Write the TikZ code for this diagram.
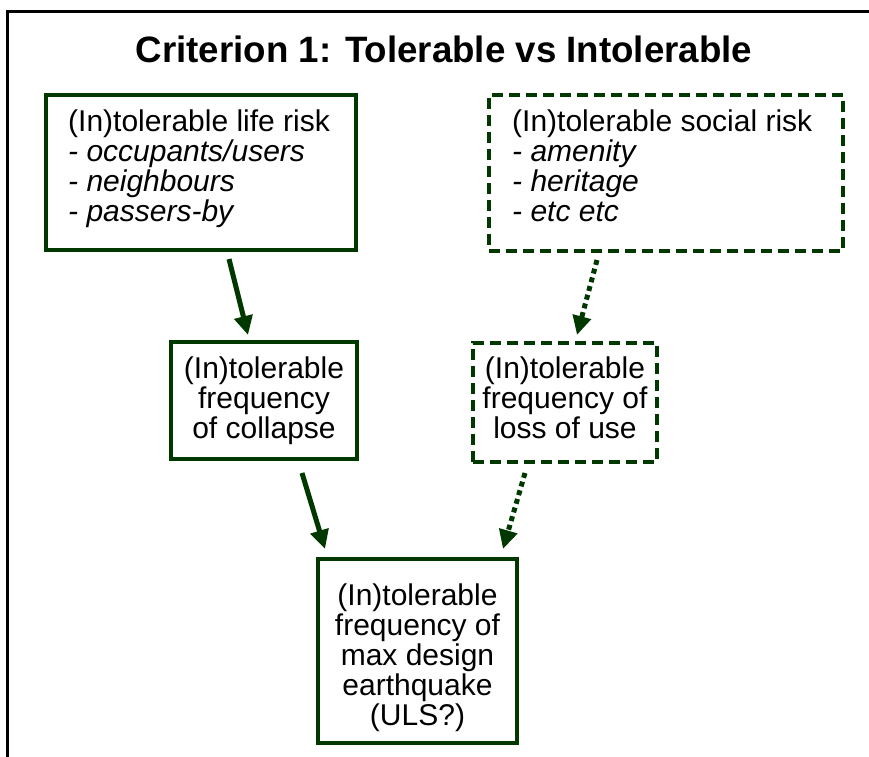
\documentclass[tikz,border=0pt]{standalone}
\usepackage{fontspec}
\setmainfont{Liberation Sans}
\usetikzlibrary{arrows.meta}
\definecolor{dg}{RGB}{0,56,0}
\begin{document}
\begin{tikzpicture}[x=1pt,y=-1pt,
  solidbox/.style={draw=dg, line width=3.5pt, inner sep=0pt},
  dashbox/.style={draw=dg, line width=3.5pt, inner sep=0pt, dash pattern=on 11pt off 6pt},
  txt/.style={font=\fontsize{30}{30}\selectfont, inner sep=0pt, text=black},
  conn/.style={draw=dg, line width=5pt, -{Triangle[length=19pt,width=18pt]}},
  dotconn/.style={conn, dash pattern=on 5pt off 4pt}]
\clip (0,0) rectangle (869,756);
\fill[white] (0,0) rectangle (869,756);
% outer frame
\draw[black, line width=3.3pt] (880,11.5) -- (7.5,11.5) -- (7.5,770);
% title
\node[font=\bfseries\fontsize{36.7}{40}\selectfont, anchor=base, inner sep=0pt] (title) at (444,62) {Criterion 1: Tolerable vs Intolerable};
% boxes
\node[solidbox, minimum width=310pt, minimum height=155pt] (b1) at (201,172.5) {};
\node[dashbox, minimum width=354pt, minimum height=156pt] (b2) at (666,173) {};
\node[solidbox, minimum width=186pt, minimum height=117pt] (b3) at (264,400.5) {};
\node[dashbox, minimum width=184pt, minimum height=119pt] (b4) at (565,402.5) {};
\node[solidbox, minimum width=199pt, minimum height=184pt] (b5) at (417.5,651) {};
% texts
\node[txt, anchor=north west, align=left] (t1) at (68,110) {(In)tolerable life risk\\\textit{- occupants/users}\\\textit{- neighbours}\\\textit{- passers-by}};
\node[txt, anchor=north west, align=left] (t2) at (512,110) {(In)tolerable social risk\\\textit{- amenity}\\\textit{- heritage}\\\textit{- etc etc}};
\node[txt, anchor=north, align=center] (t3) at (264,356.5) {(In)tolerable\\frequency\\of collapse};
\node[txt, anchor=north, align=center] (t4) at (565,356.5) {(In)tolerable\\frequency of\\loss of use};
\node[txt, anchor=north, align=center] (t5) at (417.5,583.5) {(In)tolerable\\frequency of\\max design\\earthquake\\(ULS?)};
% connectors
\coordinate (a1s) at (229,259);
\coordinate (a1e) at (248,335);
\coordinate (a2s) at (597,260);
\coordinate (a2e) at (577,335);
\coordinate (a3s) at (302,473);
\coordinate (a3e) at (325,549);
\coordinate (a4s) at (525,473);
\coordinate (a4e) at (503,549);
\draw[conn] (a1s) -- (a1e);
\draw[dotconn] (a2s) -- (a2e);
\draw[conn] (a3s) -- (a3e);
\draw[dotconn] (a4s) -- (a4e);
\end{tikzpicture}
\end{document}
